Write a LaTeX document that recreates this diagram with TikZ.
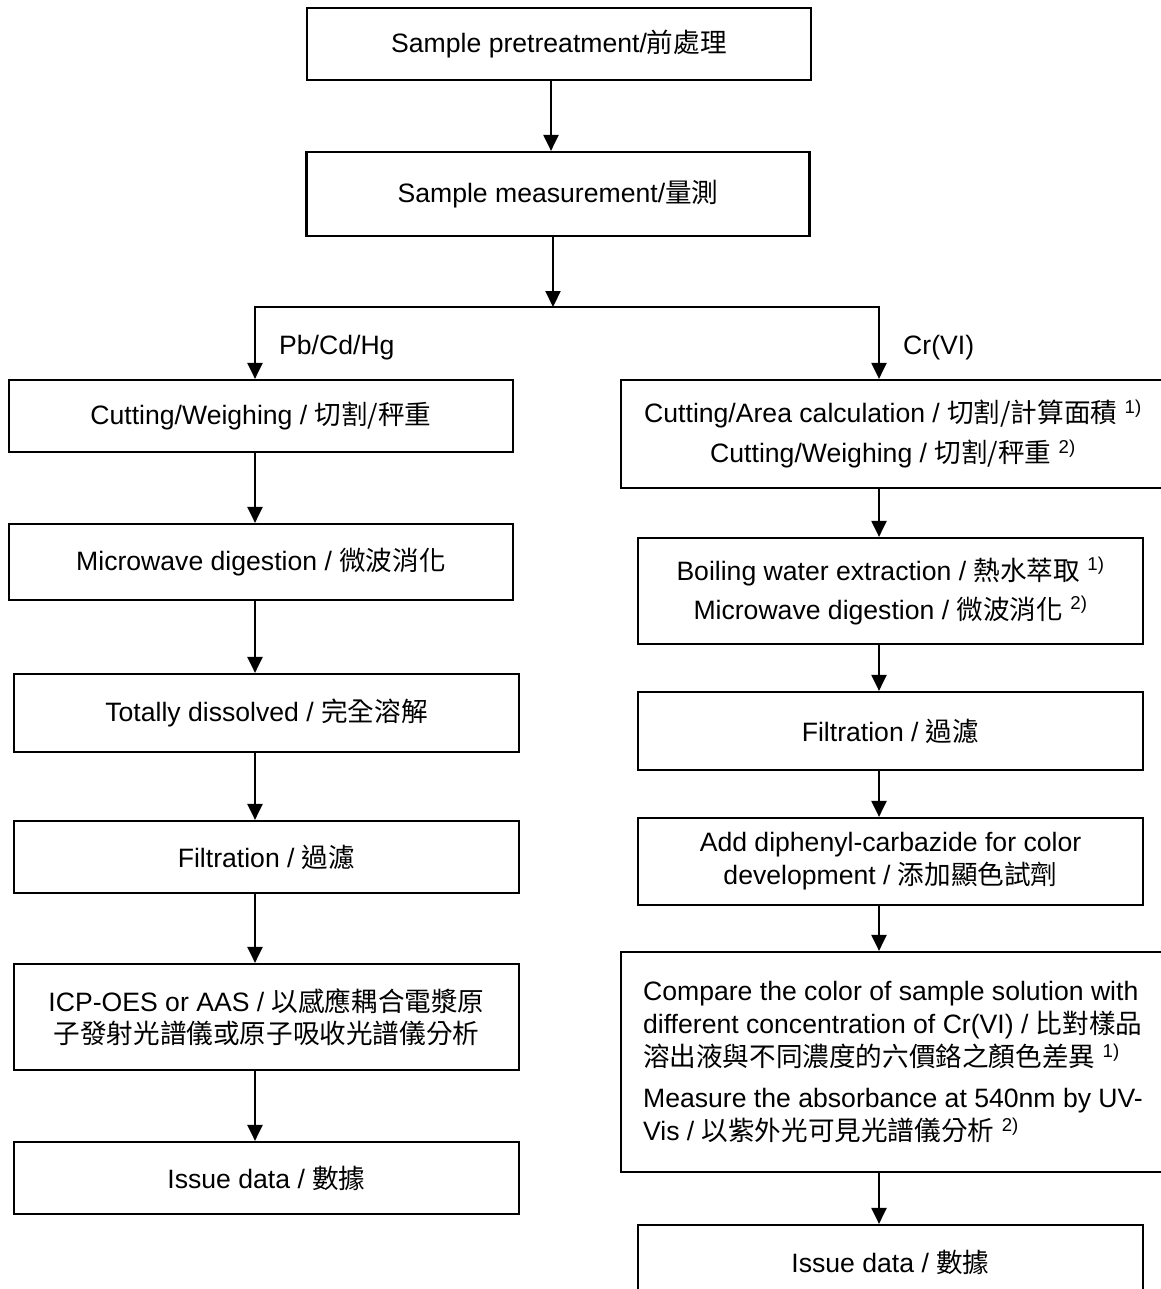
\documentclass[tikz,border=0pt]{standalone}
\usepackage{fontspec}
\setmainfont{Liberation Sans}
\newfontfamily\cjk{Noto Sans CJK TC}
\newcommand\hanzi[1]{{\cjk #1}}
\usetikzlibrary{arrows.meta}

\begin{document}
\begin{tikzpicture}
[x=1pt,y=-1pt,%
  font=\fontsize{26.6pt}{33pt}\selectfont,%
  stepbox/.style={draw,line width=2.2pt,inner sep=0pt,align=center},%
  flow/.style={line width=2.2pt,-{Triangle[length=16pt,width=15pt]}},%
  wire/.style={line width=2.2pt,line cap=rect},%
  tag/.style={inner sep=0pt,anchor=west}]
\useasboundingbox (0,0) rectangle (1160,1289);
% columns of the arrows
\coordinate (topcol) at (551,0);
\coordinate (lcol) at (255,0);
\coordinate (rcol) at (879,0);
\coordinate (fork) at (553,307);
% common steps
\node[stepbox,minimum width=504pt,minimum height=72pt] (pre) at (559,44)
  {Sample pretreatment/\hanzi{前處理}};
\node[stepbox,minimum width=503pt,minimum height=84pt] (meas) at (558,194)
  {Sample measurement/\hanzi{量測}};
% Pb/Cd/Hg branch
\node[stepbox,minimum width=504pt,minimum height=72pt] (cutL) at (261,416)
  {Cutting/Weighing / \hanzi{切割/秤重}};
\node[stepbox,minimum width=504pt,minimum height=76pt] (digL) at (261,562)
  {Microwave digestion / \hanzi{微波消化}};
\node[stepbox,minimum width=505pt,minimum height=78pt] (dissL) at (266.5,713)
  {Totally dissolved / \hanzi{完全溶解}};
\node[stepbox,minimum width=505pt,minimum height=72pt] (filtL) at (266.5,857)
  {Filtration / \hanzi{過濾}};
\node[stepbox,minimum width=505pt,minimum height=106pt,
  font=\fontsize{26.6pt}{32pt}\selectfont] (icpL) at (266.5,1017)
  {ICP-OES or AAS / \hanzi{以感應耦合電漿原}\\
   \hanzi{子發射光譜儀或原子吸收光譜儀分析}};
\node[stepbox,minimum width=505pt,minimum height=72pt] (dataL) at (266.5,1178)
  {Issue data / \hanzi{數據}};
% Cr(VI) branch
\node[stepbox,minimum width=544pt,minimum height=108pt] (cutR) at (893,434)
  {Cutting/Area calculation / \hanzi{切割/計算面積} \textsuperscript{1)}\\[7pt]
   Cutting/Weighing / \hanzi{切割/秤重} \textsuperscript{2)}};
\node[stepbox,minimum width=505pt,minimum height=106pt] (extR) at (890.5,591)
  {Boiling water extraction / \hanzi{熱水萃取} \textsuperscript{1)}\\[6pt]
   Microwave digestion / \hanzi{微波消化} \textsuperscript{2)}};
\node[stepbox,minimum width=505pt,minimum height=78pt] (filtR) at (890.5,731)
  {Filtration / \hanzi{過濾}};
\node[stepbox,minimum width=505pt,minimum height=87pt] (colR) at (890.5,861.5)
  {Add diphenyl-carbazide for color\\
   development / \hanzi{添加顯色試劑}};
\node[stepbox,minimum width=544pt,minimum height=220pt,align=left] (cmpR) at (893,1062)
  {Compare the color of sample solution with\\
   different concentration of Cr(VI) / \hanzi{比對樣品}\\
   \hanzi{溶出液與不同濃度的六價鉻之顏色差異} \textsuperscript{1)}\\[8pt]
   Measure the absorbance at 540nm by UV-\\
   Vis / \hanzi{以紫外光可見光譜儀分析} \textsuperscript{2)}};
\node[stepbox,minimum width=505pt,minimum height=74pt] (dataR) at (890.5,1262)
  {Issue data / \hanzi{數據}};
% branch labels
\node[tag] (lblL) at (279,348) {Pb/Cd/Hg};
\node[tag] (lblR) at (903,348) {Cr(VI)};
% connectors
\draw[flow] (pre.south -| topcol) -- (meas.north -| topcol);
\draw[flow] (meas.south -| fork) -- (fork);
\draw[wire] (fork -| lcol) -- (fork -| rcol);
\draw[flow] (fork -| lcol) -- (cutL.north -| lcol);
\draw[flow] (fork -| rcol) -- (cutR.north -| rcol);
\draw[flow] (cutL.south -| lcol) -- (digL.north -| lcol);
\draw[flow] (digL.south -| lcol) -- (dissL.north -| lcol);
\draw[flow] (dissL.south -| lcol) -- (filtL.north -| lcol);
\draw[flow] (filtL.south -| lcol) -- (icpL.north -| lcol);
\draw[flow] (icpL.south -| lcol) -- (dataL.north -| lcol);
\draw[flow] (cutR.south -| rcol) -- (extR.north -| rcol);
\draw[flow] (extR.south -| rcol) -- (filtR.north -| rcol);
\draw[flow] (filtR.south -| rcol) -- (colR.north -| rcol);
\draw[flow] (colR.south -| rcol) -- (cmpR.north -| rcol);
\draw[flow] (cmpR.south -| rcol) -- (dataR.north -| rcol);
\end{tikzpicture}
\end{document}
